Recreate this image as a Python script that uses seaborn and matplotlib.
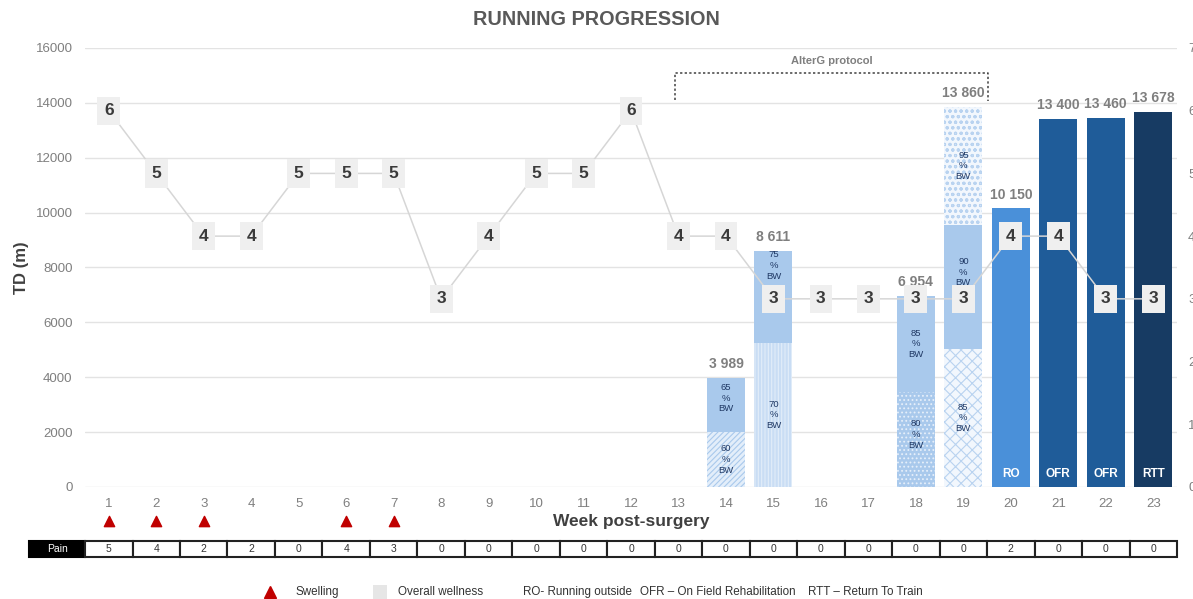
import matplotlib
matplotlib.use("Agg")
import matplotlib.pyplot as plt
import matplotlib.transforms as mtransforms
from matplotlib.patches import Rectangle
import numpy as np
import pandas as pd
import seaborn as sns

# ---- data ----
weeks = list(range(1, 24))
wellness = [6, 5, 4, 4, 5, 5, 5, 3, 4, 5, 5, 6, 4, 4, 3, 3, 3, 3, 3, 4, 4, 3, 3]
pain = [5, 4, 2, 2, 0, 4, 3, 0, 0, 0, 0, 0, 0, 0, 0, 0, 0, 0, 0, 2, 0, 0, 0]
swelling_weeks = [1, 2, 3, 6, 7]

# AlterG weeks: stacked segments (week, segment heights, %BW labels)
alterg_weeks = [14, 15, 18, 19]
alterg_segments = [
    [2020, 1969],
    [5260, 3351],
    [3480, 3474],
    [5030, 4520, 4310],
]
alterg_bw = [["60", "65"], ["70", "75"], ["80", "85"], ["85", "90", "95"]]
alterg_totals = [3989, 8611, 6954, 13860]

# outdoor weeks: single bars
outdoor_weeks = [20, 21, 22, 23]
outdoor_totals = [10150, 13400, 13460, 13678]
outdoor_phase = ["RO", "OFR", "OFR", "RTT"]

# ---- styling ----
sns.set_theme(style="white")
plt.rcParams["font.family"] = ["Liberation Sans", "DejaVu Sans"]

GRAY_TXT = "#7f7f7f"
NAVY = "#1f3864"
LIGHT = "#a9c9ec"
seg_styles = {
    (14, 0): dict(fc="#e3eefa", ec="#a9c9ec", hatch="//////"),
    (14, 1): dict(fc=LIGHT, ec=LIGHT, hatch=None),
    (15, 0): dict(fc="#c9ddf4", ec="#e2edf9", hatch="|||||"),
    (15, 1): dict(fc=LIGHT, ec=LIGHT, hatch=None),
    (18, 0): dict(fc="#a9c9ec", ec="#e6effa", hatch="...."),
    (18, 1): dict(fc=LIGHT, ec=LIGHT, hatch=None),
    (19, 0): dict(fc="#f2f7fd", ec="#b9d3f0", hatch="xxx"),
    (19, 1): dict(fc=LIGHT, ec=LIGHT, hatch=None),
    (19, 2): dict(fc="#f2f7fd", ec="#b9d3f0", hatch="ooo"),
}
# where the %BW label sits within its segment (fraction of segment height)
label_frac = {(14, 1): 0.62, (15, 1): 0.84, (19, 1): 0.62, (18, 0): 0.55}
phase_colors = {"RO": "#4a90d9", "OFR": "#1f5c99", "RTT": "#173b63"}
plt.rcParams["hatch.linewidth"] = 0.8

fig = plt.figure(figsize=(11.93, 5.99), dpi=100)
ax = fig.add_axes([0.0713, 0.187, 0.9153, 0.7329])

xpos = {w: i for i, w in enumerate(weeks)}
bar_w = 0.8

# stacked AlterG bars
for w, segs, bws, tot in zip(alterg_weeks, alterg_segments, alterg_bw, alterg_totals):
    bottom = 0
    for k, (h, bw) in enumerate(zip(segs, bws)):
        st = seg_styles[(w, k)]
        ax.bar(xpos[w], h, width=bar_w, bottom=bottom, color=st["fc"],
               edgecolor=st["ec"], hatch=st["hatch"], linewidth=0, zorder=2)
        frac = label_frac.get((w, k), 0.5)
        ax.text(xpos[w], bottom + h * frac, f"{bw}\n%\nBW", ha="center", va="center",
                fontsize=6.8, color=NAVY, linespacing=1.25, zorder=3)
        bottom += h
    ax.text(xpos[w], tot + 250, f"{tot:,}".replace(",", " "), ha="center", va="bottom",
            fontsize=10, fontweight="bold", color=GRAY_TXT, zorder=3)

# outdoor bars
for w, tot, ph in zip(outdoor_weeks, outdoor_totals, outdoor_phase):
    ax.bar(xpos[w], tot, width=bar_w, color=phase_colors[ph], linewidth=0, zorder=2)
    ax.text(xpos[w], 250, ph, ha="center", va="bottom", fontsize=8.5,
            fontweight="bold", color="white", zorder=3)
    ax.text(xpos[w], tot + 250, f"{tot:,}".replace(",", " "), ha="center", va="bottom",
            fontsize=10, fontweight="bold", color=GRAY_TXT, zorder=3)

ax.set_xlim(-0.5, len(weeks) - 0.5)
ax.set_ylim(0, 16000)
ax.set_yticks(np.arange(0, 16001, 2000))
ax.set_xticks(range(len(weeks)))
ax.set_xticklabels([str(w) for w in weeks])
ax.yaxis.grid(True, color="#e3e3e3", linewidth=1, zorder=0)
ax.set_axisbelow(True)
for s in ax.spines.values():
    s.set_visible(False)
ax.tick_params(axis="both", length=0, colors=GRAY_TXT, labelsize=9.5)
ax.tick_params(axis="x", pad=8)
ax.tick_params(axis="y", pad=9)
ax.set_ylabel("TD (m)", fontsize=12, fontweight="bold", color="#404040", labelpad=5)
ax.set_xlabel("Week post-surgery", fontsize=12.5, fontweight="bold", color="#404040",
              labelpad=3)

# AlterG bracket
x0 = xpos[13] - 0.07
x1 = xpos[19] + 0.52
ax.plot([x0, x0, x1, x1], [14100, 15100, 15100, 14050], color="#404040",
        linestyle=(0, (1.5, 1.5)), linewidth=1.1, zorder=4, clip_on=False)
ax.text((x0 + x1) / 2, 15350, "AlterG protocol", ha="center", va="bottom",
        fontsize=8, fontweight="bold", color=GRAY_TXT)

# wellness line on secondary axis
ax2 = ax.twinx()
ax2.set_ylim(0, 7)
ax2.set_yticks(range(0, 8))
ax2.patch.set_visible(False)
for s in ax2.spines.values():
    s.set_visible(False)
ax2.tick_params(axis="y", length=0, colors=GRAY_TXT, labelsize=9.5, pad=8)
df = pd.DataFrame({"pos": [xpos[w] for w in weeks], "wellness": wellness})
sns.lineplot(data=df, x="pos", y="wellness", ax=ax2, color="#d6d6d6",
             linewidth=1.1, zorder=5, legend=False)
ax2.set_xlabel("")
ax2.set_ylabel("")
for p, v in zip(df["pos"], df["wellness"]):
    ax2.text(p, v, str(v), ha="center", va="center", fontsize=12.5, fontweight="bold",
             color="#3a3a3a", zorder=6,
             bbox=dict(boxstyle="square,pad=0.38", fc="#efefef", ec="none"))
ax2.set_xlim(-0.5, len(weeks) - 0.5)

# swelling markers below week ticks
trans = mtransforms.blended_transform_factory(ax.transData, ax.transAxes)
ax.scatter([xpos[w] for w in swelling_weeks], [-0.078] * len(swelling_weeks),
           marker="^", s=55, color="#c00000", transform=trans, clip_on=False, zorder=5)

# pain table
ty0, ty1 = -0.1595, -0.1225
ax.add_patch(Rectangle((-1.68, ty0), 1.18, ty1 - ty0, transform=trans,
                       facecolor="black", edgecolor="black", linewidth=1.5,
                       clip_on=False))
ax.text(-1.09, (ty0 + ty1) / 2, "Pain", transform=trans, ha="center", va="center",
        fontsize=7.5, color="white")
for i, v in enumerate(pain):
    ax.add_patch(Rectangle((i - 0.5, ty0), 1.0, ty1 - ty0, transform=trans,
                           facecolor="white", edgecolor="#222222", linewidth=1.5,
                           clip_on=False))
    ax.text(i, (ty0 + ty1) / 2, str(v), transform=trans, ha="center", va="center",
            fontsize=7.5, color="#333333")

# title
fig.text(0.5, 0.967, "RUNNING PROGRESSION", ha="center", va="center", fontsize=14.3,
         fontweight="bold", color="#595959")

# legend row
ly = 1 - 592 / 599
fig.lines.append(plt.Line2D([270 / 1193], [ly], marker="^", markersize=8, color="#c00000",
                            linestyle="none", transform=fig.transFigure))
fig.patches.append(Rectangle((373 / 1193, ly - 7 / 599), 14 / 1193, 14 / 599,
                             transform=fig.transFigure, facecolor="#e6e6e6",
                             edgecolor="none"))
LFS = 8.4
fig.text(295 / 1193, ly, "Swelling", ha="left", va="center", fontsize=LFS, color="#333333")
fig.text(398 / 1193, ly, "Overall wellness", ha="left", va="center", fontsize=LFS,
         color="#333333")
fig.text(523 / 1193, ly, "RO- Running outside", ha="left", va="center", fontsize=LFS,
         color="#333333")
fig.text(640 / 1193, ly, "OFR \u2013 On Field Rehabilitation", ha="left", va="center",
         fontsize=LFS, color="#333333")
fig.text(808 / 1193, ly, "RTT \u2013 Return To Train", ha="left", va="center",
         fontsize=LFS, color="#333333")

fig.savefig("out.png", dpi=100)
